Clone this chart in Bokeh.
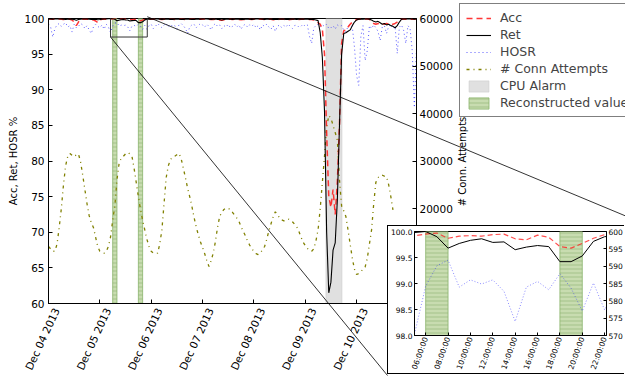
import math
import pandas as pd
from bokeh.plotting import figure
from bokeh.models import (Range1d, LinearAxis, DatetimeAxis, FixedTicker, DatetimeTickFormatter,
                          Legend, LegendItem, NumeralTickFormatter, Label, CustomLabelingPolicy)
from bokeh.embed import file_html
from bokeh.resources import INLINE

# ---------------- data (hourly, from 2013-12-04 00:00) ----------------
START = "2013-12-04 00:00"

ret = [
    99.95, 99.92, 99.9, 99.93, 99.96, 99.95, 99.92, 99.9, 99.88, 99.9, 99.93, 99.9,
    99.85, 99.75, 99.85, 99.9, 99.93, 99.95, 99.93, 99.9, 99.88, 99.85, 99.9, 99.82,
    99.85, 99.9, 99.93, 99.95, 99.96, 99.98, 100.0, 99.90, 99.68, 99.77, 99.83, 99.86,
    99.79, 99.80, 99.65, 99.70, 99.73, 99.71, 99.42, 99.42, 99.53, 99.81, 99.90, 99.92,
    99.9, 99.93, 99.95, 99.92, 99.9, 99.88, 99.9, 99.93, 99.9, 99.86, 99.88, 99.9,
    99.92, 99.9, 99.87, 99.85, 99.9, 99.92, 99.9, 99.88, 99.86, 99.9, 99.93, 99.9,
    99.92, 99.95, 99.93, 99.9, 99.88, 99.9, 99.92, 99.88, 99.85, 99.8, 99.86, 99.9,
    99.92, 99.9, 99.88, 99.9, 99.93, 99.9, 99.86, 99.88, 99.9, 99.92, 99.9, 99.88,
    99.9, 99.93, 99.95, 99.92, 99.9, 99.88, 99.9, 99.92, 99.9, 99.87, 99.85, 99.88,
    99.9, 99.92, 99.9, 99.88, 99.85, 99.9, 99.92, 99.9, 99.88, 99.9, 99.93, 99.9,
    99.9, 99.92, 99.88, 99.9, 99.85, 99.8, 99.7, 98.0, 94.5, 87.0, 70.0, 61.5,
    63.0, 67.5, 68.5, 74.5, 85.0, 95.0, 97.9, 98.0, 98.2, 98.4, 99.0, 99.5,
    99.8, 99.9, 99.92, 99.9, 99.92, 99.95, 99.9, 99.8, 99.6, 99.5, 99.6, 99.4,
    99.2, 99.3, 99.1, 99.2, 99.0, 98.9, 98.7, 99.0, 99.5, 99.9, 99.93, 99.95,
    99.95, 99.93, 99.95, 99.9, 99.92,
]

acc = [
    99.9, 99.88, 99.9, 99.93, 99.95, 99.94, 99.9, 99.87, 99.85, 99.88, 99.9, 99.8,
    99.5, 99.0, 99.5, 99.85, 99.9, 99.92, 99.9, 99.88, 99.85, 99.8, 99.65, 99.45,
    99.8, 99.88, 99.92, 99.9, 99.91, 99.92, 99.95, 99.97, 99.87, 99.91, 99.92, 99.91,
    99.94, 99.95, 99.86, 99.84, 99.93, 99.89, 99.71, 99.68, 99.77, 99.87, 99.94, 99.9,
    99.88, 99.9, 99.93, 99.9, 99.88, 99.85, 99.88, 99.9, 99.92, 99.9, 99.88, 99.85,
    99.87, 99.9, 99.92, 99.9, 99.85, 99.88, 99.9, 99.92, 99.9, 99.87, 99.9, 99.92,
    99.9, 99.92, 99.9, 99.88, 99.85, 99.87, 99.9, 99.86, 99.8, 99.75, 99.82, 99.88,
    99.9, 99.88, 99.85, 99.88, 99.9, 99.87, 99.83, 99.85, 99.88, 99.9, 99.88, 99.85,
    99.88, 99.9, 99.92, 99.9, 99.88, 99.85, 99.88, 99.9, 99.88, 99.84, 99.8, 99.85,
    99.88, 99.9, 99.88, 99.85, 99.82, 99.87, 99.9, 99.88, 99.85, 99.87, 99.9, 99.88,
    99.88, 99.9, 99.85, 99.87, 99.8, 99.7, 99.4, 99.2, 98.5, 95.0, 84.0, 75.0,
    73.5, 76.0, 72.5, 77.0, 85.0, 96.5, 98.3, 98.4, 98.8, 99.2, 99.5, 99.7,
    99.85, 99.9, 99.92, 99.9, 99.92, 99.93, 99.9, 99.6, 99.3, 99.2, 99.3, 99.2,
    99.3, 99.2, 99.3, 99.2, 99.1, 99.2, 99.3, 99.5, 99.7, 99.9, 99.92, 99.9,
    99.92, 99.9, 99.93, 99.9, 99.92,
]

hosr = [
    99.2, 98.8, 97.4, 98.6, 99.1, 99.3, 98.9, 99.2, 99.4, 98.8, 99.0, 98.1,
    99.2, 98.7, 98.9, 99.3, 99.1, 98.6, 99.0, 98.4, 97.9, 98.8, 99.2, 98.9,
    98.7, 99.1, 98.5, 99.2, 98.8, 98.03, 98.95, 99.34, 99.45, 98.93, 99.07, 98.99,
    99.07, 98.85, 98.27, 98.93, 99.04, 98.88, 99.19, 98.91, 98.47, 99.01, 98.49, 99.0,
    99.2, 98.6, 98.9, 99.3, 99.0, 98.7, 99.1, 99.3, 98.8, 99.2, 98.9, 99.0,
    98.5, 99.1, 99.3, 99.0, 98.6, 97.9, 98.8, 99.1, 99.2, 98.7, 99.0, 99.3,
    99.1, 98.8, 99.2, 98.9, 98.4, 99.0, 99.3, 98.9, 99.1, 98.6, 99.0, 98.8,
    99.2, 98.7, 98.9, 99.2, 98.8, 99.1, 98.5, 99.0, 99.2, 98.8, 99.1, 98.9,
    99.2, 98.7, 99.0, 98.4, 99.1, 98.9, 99.2, 98.8, 98.5, 99.0, 98.2, 98.9,
    99.1, 98.7, 99.0, 98.8, 99.2, 98.9, 98.6, 99.0, 99.1, 98.8, 98.9, 99.2,
    98.9, 99.1, 97.5, 96.5, 98.7, 99.0, 99.2, 98.8, 99.1, 98.9, 99.2, 98.6,
    98.7, 99.0, 98.5, 99.1, 98.9, 99.0, 98.4, 98.1, 98.9, 99.2, 98.8, 96.0,
    92.0, 90.6, 97.5, 99.0, 94.1, 95.5, 99.0, 98.6, 99.1, 98.7, 98.2, 96.9,
    98.8, 99.0, 97.9, 98.9, 99.2, 98.6, 98.9, 95.1, 98.8, 99.1, 98.3, 96.5,
    99.0, 98.6, 95.5, 87.5, 96.0,
]

conn_attempts = [
    12000, 11500, 11000, 11000, 12500, 16000, 20000, 25000, 29000, 31000, 31600, 31200,
    30900, 31300, 31500, 29800, 27000, 24000, 21000, 18500, 17000, 16000, 14000, 12000,
    11000, 10800, 10600, 11000, 12000, 14000, 17500, 20500, 26000, 29500, 30600, 31000,
    31500, 31800, 31500, 31000, 28500, 25500, 22500, 19800, 17500, 15500, 13500, 12000,
    11000, 10600, 10600, 10600, 12500, 15500, 21000, 26500, 29000, 30300, 30800, 31000,
    31300, 31600, 30500, 28500, 26500, 24300, 22500, 20500, 18200, 16200, 14500, 13000,
    11800, 10500, 9000, 7800, 9000, 10600, 13000, 16000, 18300, 19200, 19800, 20100,
    20000, 19800, 19200, 18600, 18000, 17300, 16200, 15200, 14300, 13200, 12300, 11600,
    10900, 10500, 10300, 10600, 11300, 12000, 13500, 15300, 16800, 18200, 19300, 18800,
    18000, 17600, 17400, 17600, 17800, 17600, 17200, 16700, 16200, 15200, 14000, 12900,
    12200, 11600, 11200, 11000, 11500, 13200, 15500, 20000, 25500, 31000, 37000, 39600,
    39000, 37500, 36000, 34400, 26000, 20500, 19500, 18300, 15500, 12500, 9500, 7200,
    6100, 6300, 6700, 7200, 7700, 9500, 12500, 15500, 21000, 25500, 26500, 27000,
    27000, 26800, 26700, 25000, 22500, 19700,
]

x_days = ["2013-12-04", "2013-12-05", "2013-12-06", "2013-12-07",
          "2013-12-08", "2013-12-09", "2013-12-10"]
x_end = "2013-12-11 04:00"
alarm_start = ["2013-12-09 09:40"]
alarm_end = ["2013-12-09 17:10"]
recon_start = ["2013-12-05 06:00", "2013-12-05 18:00"]
recon_end = ["2013-12-05 08:00", "2013-12-05 20:00"]
left_ticks = [60, 65, 70, 75, 80, 85, 90, 95, 100]
right_ticks = [20000, 30000, 40000, 50000, 60000]
conn_range = (0, 60000)
pct_range = (60, 100)
left_label = "Acc, Ret, HOSR %"
right_label = "# Conn. Attempts"

inset_x = ("2013-12-05 05:00", "2013-12-05 22:10")
inset_y = (98.0, 100.0)
inset_r = (570, 600)
inset_left_ticks = [98.0, 98.5, 99.0, 99.5, 100.0]
inset_right_ticks = [570, 575, 580, 585, 590, 595, 600]
inset_x_ticks = ["2013-12-05 06:00", "2013-12-05 08:00", "2013-12-05 10:00",
                 "2013-12-05 12:00", "2013-12-05 14:00", "2013-12-05 16:00",
                 "2013-12-05 18:00", "2013-12-05 20:00", "2013-12-05 22:00"]
zoom_box_y = (97.4, 100.25)

legend_labels = ["Acc", "Ret", "HOSR", "# Conn Attempts", "CPU Alarm", "Reconstructed values"]

# ---------------- helpers / style ----------------
def ms(s):
    return pd.Timestamp(s).value / 1e6

times = pd.date_range(START, periods=len(ret), freq="h")
conn_full = conn_attempts + [float("nan")] * (len(ret) - len(conn_attempts))
NAN = float("nan")

FONT = "DejaVu Sans"
RED, BLUE, OLIVE = "#ff2020", "#3030ff", "#808000"
GREY, GREY_EDGE = "#e0e0e0", "#c8c8c8"
GREEN, GREEN_HATCH, GREEN_EDGE = "#c8dcb0", "#93b878", "#8ab46c"

ACC_STYLE = dict(line_color=RED, line_width=1.5, line_dash="6 4", line_alpha=0.9)
RET_STYLE = dict(line_color="black", line_width=1.1)
HOSR_STYLE = dict(line_color=BLUE, line_width=1, line_dash="1 3", line_alpha=0.8)
CONN_STYLE = dict(line_color=OLIVE, line_width=1.3, line_dash="3 4 1 4")
ALARM_STYLE = dict(fill_color=GREY, line_color=GREY_EDGE, line_width=0.5)
RECON_STYLE = dict(fill_color=GREEN, line_color=GREEN_EDGE, line_width=0.8, hatch_pattern="-",
                   hatch_color=GREEN_HATCH, hatch_scale=4, hatch_weight=0.7)

W, H = 625, 377
FL, FR, FT, FB = 48, 209, 18, 73
FW, FH = W - FL - FR, H - FT - FB
INSET_LEFT, INSET_TOP, INSET_W, INSET_H = 387, 225, 237, 149
LEG_LEFT, LEG_TOP, LEG_H = 459, 5, 112
LABEL_SHIFT = pd.Timedelta(hours=3.75)   # centre rotated date labels on their ticks


def style_axis(ax, size="10.5px", tick_in=4):
    ax.major_tick_in = tick_in
    ax.major_tick_out = 0
    ax.minor_tick_in = 0
    ax.minor_tick_out = 0
    ax.major_label_text_font = FONT
    ax.major_label_text_font_size = size
    ax.major_label_text_color = "black"
    ax.axis_line_color = "black"
    ax.major_tick_line_color = "black"
    ax.axis_label_text_font = FONT
    ax.axis_label_text_font_size = "10px"
    ax.axis_label_text_font_style = "normal"
    ax.axis_label_text_color = "black"


# ---------------- main figure ----------------
p = figure(width=W, height=H, x_axis_type="datetime",
           x_range=Range1d(ms(START), ms(x_end)), y_range=Range1d(*pct_range),
           output_backend="svg", toolbar_location=None,
           min_border_left=FL, min_border_right=FR, min_border_top=FT, min_border_bottom=FB)
p.xgrid.visible = False
p.ygrid.visible = False
p.outline_line_color = "black"
p.outline_line_alpha = 1
p.background_fill_color = "white"
p.border_fill_color = "white"

p.quad(left=[ms(s) for s in alarm_start], right=[ms(s) for s in alarm_end],
       bottom=pct_range[0], top=pct_range[1], **ALARM_STYLE)
p.quad(left=[ms(s) for s in recon_start], right=[ms(s) for s in recon_end],
       bottom=pct_range[0], top=pct_range[1], **RECON_STYLE)

p.extra_y_ranges = {"conn": Range1d(*conn_range)}
p.line(times, conn_full, y_range_name="conn", **CONN_STYLE)
p.line(times, hosr, **HOSR_STYLE)
p.line(times, acc, **ACC_STYLE)
p.line(times, ret, **RET_STYLE)

# zoom box
p.quad(left=[ms(inset_x[0])], right=[ms(inset_x[1])], bottom=zoom_box_y[0], top=zoom_box_y[1],
       fill_color=None, line_color="#333333", line_width=1)

# x axis: tick marks on the first axis (labels hidden), date labels on a second axis
xa = p.xaxis[0]
xa.ticker = FixedTicker(ticks=[ms(d) for d in x_days])
style_axis(xa)
xa.major_label_text_font_size = "0px"
xa.major_label_standoff = 0
xa.major_label_policy = CustomLabelingPolicy(code="return []")
xlab = DatetimeAxis(ticker=FixedTicker(ticks=[ms(d) + LABEL_SHIFT.value / 1e6 for d in x_days]),
                    formatter=DatetimeTickFormatter(days="%b %d %Y", months="%b %d %Y",
                                                    hours="%b %d %Y", hourmin="%b %d %Y"))
style_axis(xlab)
xlab.axis_line_color = None
xlab.major_tick_line_color = None
xlab.major_tick_in = 0
xlab.major_label_standoff = 5
xlab.major_label_orientation = math.radians(65)
p.add_layout(xlab, "below")

p.yaxis.ticker = FixedTicker(ticks=left_ticks)
p.yaxis.axis_label = left_label
style_axis(p.yaxis[0])
p.yaxis.major_label_standoff = 4
p.yaxis.axis_label_standoff = 2

rax = LinearAxis(y_range_name="conn", ticker=FixedTicker(ticks=right_ticks))
style_axis(rax)
rax.major_label_standoff = 3
p.add_layout(rax, "right")

# ---------------- overlay (legend, right-axis title, connector lines) ----------------
ov = figure(width=W, height=H, x_range=Range1d(0, W), y_range=Range1d(H, 0),
            output_backend="svg", toolbar_location=None, min_border=0,
            x_axis_location=None, y_axis_location=None)
ov.xgrid.visible = False
ov.ygrid.visible = False
ov.outline_line_color = None
ov.background_fill_alpha = 0
ov.border_fill_alpha = 0


def px(t):
    return FL + (ms(t) - ms(START)) / (ms(x_end) - ms(START)) * FW


def py(v):
    return FT + (pct_range[1] - v) / (pct_range[1] - pct_range[0]) * FH


ov.segment(x0=[px(inset_x[0]), px(inset_x[1])], y0=[py(zoom_box_y[0]), py(zoom_box_y[1])],
           x1=[INSET_LEFT, 648], y1=[INSET_TOP + INSET_H + 1, INSET_TOP],
           line_color="black", line_width=0.8)

ov.add_layout(Label(x=462, y=FT + FH / 2, text=right_label, angle=math.pi / 2,
                    text_align="center", text_baseline="middle", text_font=FONT,
                    text_font_size="10px", text_color="black"))

leg_r = [
    ov.line([NAN], [NAN], **ACC_STYLE),
    ov.line([NAN], [NAN], **RET_STYLE),
    ov.line([NAN], [NAN], **HOSR_STYLE),
    ov.line([NAN], [NAN], **CONN_STYLE),
    ov.quad(left=[NAN], right=[NAN], bottom=[NAN], top=[NAN], **ALARM_STYLE),
    ov.quad(left=[NAN], right=[NAN], bottom=[NAN], top=[NAN], **RECON_STYLE),
]
legend = Legend(items=[LegendItem(label=l, renderers=[r]) for l, r in zip(legend_labels, leg_r)],
                location=(LEG_LEFT, H - LEG_TOP - LEG_H), orientation="vertical")
legend.label_text_font = FONT
legend.label_text_font_size = "12.5px"
legend.label_height = 14
legend.glyph_height = 14
legend.glyph_width = 25
legend.label_standoff = 9
legend.spacing = 2
legend.padding = 6
legend.margin = 0
legend.border_line_color = "black"
legend.border_line_width = 1
legend.background_fill_alpha = 1
ov.add_layout(legend, "center")
ov.styles = {"position": "absolute", "left": "0px", "top": "0px"}

# ---------------- inset figure ----------------
ins = figure(width=INSET_W, height=INSET_H, x_axis_type="datetime",
             x_range=Range1d(ms(inset_x[0]), ms(inset_x[1])), y_range=Range1d(*inset_y),
             output_backend="svg", toolbar_location=None,
             min_border_left=24, min_border_right=15, min_border_top=5, min_border_bottom=35)
ins.xgrid.visible = False
ins.ygrid.visible = False
ins.outline_line_color = "black"
ins.outline_line_alpha = 1
ins.quad(left=[ms(s) for s in recon_start], right=[ms(s) for s in recon_end],
         bottom=inset_y[0], top=inset_y[1], **RECON_STYLE)
ins.line(times, hosr, line_color=BLUE, line_width=0.8, line_dash="1 2", line_alpha=0.7)
ins.line(times, acc, line_color=RED, line_width=1.2, line_dash="5 3", line_alpha=0.8)
ins.line(times, ret, line_color="black", line_width=1)
ins.extra_y_ranges = {"r": Range1d(*inset_r)}
iax = LinearAxis(y_range_name="r", ticker=FixedTicker(ticks=inset_right_ticks))
ins.add_layout(iax, "right")
ins.xaxis.ticker = FixedTicker(ticks=[ms(t) for t in inset_x_ticks])
ins.xaxis.formatter = DatetimeTickFormatter(hours="%H:%M:%S", hourmin="%H:%M:%S",
                                            minutes="%H:%M:%S", days="%H:%M:%S")
ins.xaxis.major_label_orientation = math.radians(70)
ins.yaxis[0].ticker = FixedTicker(ticks=inset_left_ticks)
ins.yaxis[0].formatter = NumeralTickFormatter(format="0.0")
for ax in [ins.xaxis[0], ins.yaxis[0], iax]:
    style_axis(ax, size="7.5px", tick_in=3)
    ax.major_label_standoff = 2
ins.styles = {"position": "absolute", "left": f"{INSET_LEFT}px", "top": f"{INSET_TOP}px",
              "border-left": "1px solid black", "border-top": "1px solid black",
              "border-bottom": "1px solid black", "background": "white"}

open("out.html", "w").write(file_html([p, ov, ins], INLINE))
